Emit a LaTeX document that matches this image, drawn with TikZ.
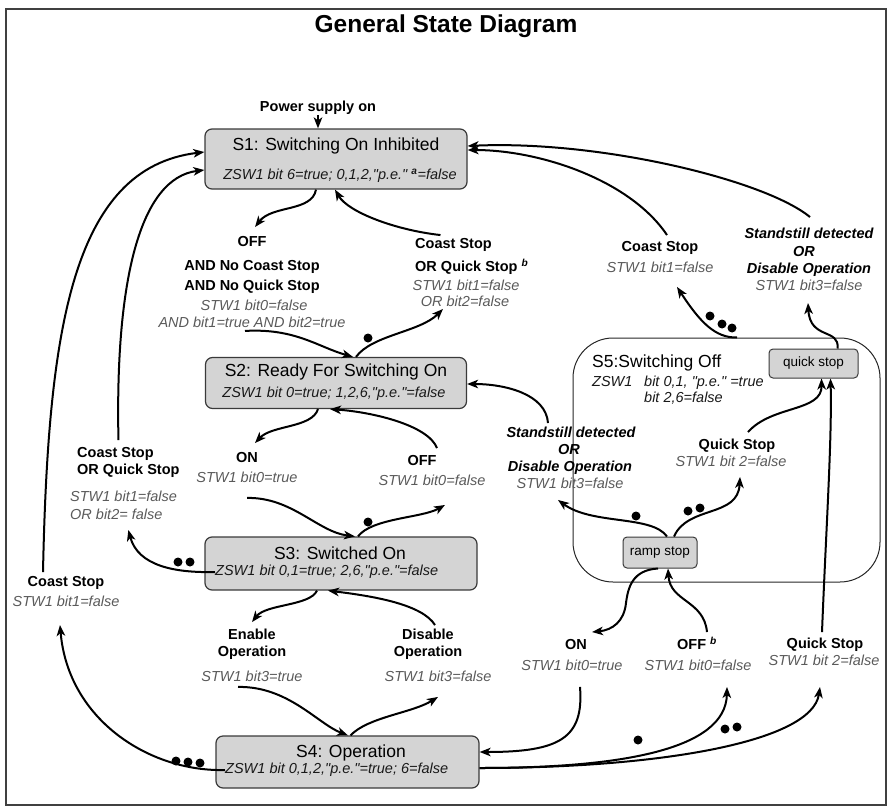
\documentclass[tikz,border=0pt]{standalone}
\usepackage{fontspec}
\setmainfont[Ligatures=TeXOff]{Liberation Sans}
\usetikzlibrary{arrows.meta}
\definecolor{txtgray}{HTML}{5A5A5A}
\definecolor{boxfill}{HTML}{D4D4D4}
\definecolor{boxline}{HTML}{3A3A3A}
\begin{document}
\begin{tikzpicture}[x=1pt,y=-1pt,
 lb/.style={font=\fontsize{14.5}{17}\selectfont\bfseries, inner sep=0pt, text height=10.5pt, text depth=3pt},
 lbi/.style={font=\fontsize{14.5}{17}\selectfont\bfseries\itshape, inner sep=0pt, text height=10.5pt, text depth=3pt},
 lg/.style={font=\fontsize{14.5}{17}\selectfont\itshape, text=txtgray, inner sep=0pt, text height=10.5pt, text depth=3pt},
 stbox/.style={draw=boxline, fill=boxfill, line width=1.2pt, rounded corners=7pt, inner sep=0pt},
 smallbox/.style={draw=boxline, fill=boxfill, line width=1pt, rounded corners=4pt, inner sep=0pt, font=\fontsize{13.5}{15}\selectfont},
 stitle/.style={font=\fontsize{17.5}{20}\selectfont, inner sep=0pt},
 sdet/.style={font=\fontsize{14.5}{17}\selectfont\itshape, text=black!90, inner sep=0pt, text height=10.5pt, text depth=3pt},
 conn/.style={line width=2pt, -{Stealth[length=11pt,width=8.5pt,inset=3pt]}},
 dotc/.style={fill=black}
]
\useasboundingbox (0,0) rectangle (891,808);
\draw[draw=black!75, line width=1.2pt] (6,9) rectangle (886,805);
\node[font=\fontsize{24.5}{28}\selectfont\bfseries, inner sep=0pt] (title) at (446,26) {General State Diagram};

% states
\node[stbox, minimum width=262, minimum height=60] (s1) at (336,159) {};
\node[stitle] (s1a) at (336,146) {S1: Switching On Inhibited};
\node[sdet] (s1b) at (340,176) {ZSW1 bit 6=true; 0,1,2,"p.e." \textsuperscript{\textbf{a}}=false};

\node[stbox, minimum width=261, minimum height=51] (s2) at (336,383) {};
\node[stitle] (s2a) at (336,372) {S2: Ready For Switching On};
\node[sdet] (s2b) at (334,394) {ZSW1 bit 0=true; 1,2,6,"p.e."=false};

\node[stbox, minimum width=272, minimum height=53] (s3) at (341,563.5) {};
\node[stitle] (s3a) at (340,553) {S3: Switched On};
\node[sdet, anchor=west] (s3b) at (215,572) {ZSW1 bit 0,1=true; 2,6,"p.e."=false};

\node[stbox, minimum width=263, minimum height=52] (s4) at (347.5,762) {};
\node[stitle] (s4a) at (351,753) {S4: Operation};
\node[sdet, anchor=west] (s4b) at (225,770) {ZSW1 bit 0,1,2,"p.e."=true; 6=false};

\node[draw=black!85, line width=1pt, rounded corners=40pt, minimum width=307, minimum height=244, inner sep=0pt] (s5) at (726.5,460) {};
\node[stitle, anchor=west] (s5t) at (592,363) {S5:Switching Off};
\node[sdet, anchor=west] (s5b) at (592,383) {ZSW1};
\node[sdet, anchor=west] (s5c) at (644,383) {bit 0,1, "p.e." =true};
\node[sdet, anchor=west] (s5d) at (644,399) {bit 2,6=false};
\node[smallbox, minimum width=89, minimum height=29] (qs) at (813.5,363.5) {quick stop};
\node[smallbox, minimum width=74, minimum height=31] (ramp) at (660,552.5) {ramp stop};

% labels
\node[lb] (pwr) at (318,108) {Power supply on};

\node[lb] (offa) at (252,243) {OFF};
\node[lb] (offb) at (252,267) {AND No Coast Stop};
\node[lb] (offc) at (252,287) {AND No Quick Stop};
\node[lg] (offd) at (254,307) {STW1 bit0=false};
\node[lg] (offe) at (252,324) {AND bit1=true AND bit2=true};

\node[lb, anchor=west] (cs1a) at (415,245) {Coast Stop};
\node[lb, anchor=west] (cs1b) at (415,268) {OR Quick Stop \textsuperscript{\textit{b}}};
\node[lg] (cs1c) at (466,287) {STW1 bit1=false};
\node[lg] (cs1d) at (465,303) {OR bit2=false};

\node[lb] (on1a) at (247,459) {ON};
\node[lg] (on1b) at (247,479) {STW1 bit0=true};
\node[lb] (off1a) at (422,462) {OFF};
\node[lg] (off1b) at (432,482) {STW1 bit0=false};

\node[lb, anchor=west] (lcsa) at (77,454) {Coast Stop};
\node[lb, anchor=west] (lcsb) at (77,471) {OR Quick Stop};
\node[lg, anchor=west] (lcsc) at (70,498) {STW1 bit1=false};
\node[lg, anchor=west] (lcsd) at (70,516) {OR bit2= false};

\node[lb] (lcs2a) at (66,583) {Coast Stop};
\node[lg] (lcs2b) at (66,603) {STW1 bit1=false};

\node[lb] (ena) at (252,636) {Enable};
\node[lb] (enb) at (252,653) {Operation};
\node[lg] (enc) at (252,678) {STW1 bit3=true};
\node[lb] (disa) at (428,636) {Disable};
\node[lb] (disb) at (428,653) {Operation};
\node[lg] (disc) at (438,678) {STW1 bit3=false};

\node[lb] (rona) at (576,646) {ON};
\node[lg] (ronb) at (572,667) {STW1 bit0=true};
\node[lb] (roffa) at (697,646) {OFF \textsuperscript{\textit{b}}};
\node[lg] (roffb) at (698,667) {STW1 bit0=false};
\node[lb] (rqsa) at (825,645) {Quick Stop};
\node[lg] (rqsb) at (824,662) {STW1 bit 2=false};

\node[lb] (iqsa) at (737,446) {Quick Stop};
\node[lg] (iqsb) at (731,463) {STW1 bit 2=false};

\node[lbi] (msa) at (571,434) {Standstill detected};
\node[lbi] (msb) at (569,451) {OR};
\node[lbi] (msc) at (570,468) {Disable Operation};
\node[lg] (msd) at (570,485) {STW1 bit3=false};

\node[lb] (ucsa) at (660,248) {Coast Stop};
\node[lg] (ucsb) at (660,269) {STW1 bit1=false};
\node[lbi] (usa) at (809,235) {Standstill detected};
\node[lbi] (usb) at (804,253) {OR};
\node[lbi] (usc) at (809,270) {Disable Operation};
\node[lg] (usd) at (809,287) {STW1 bit3=false};

% connectors
\draw[conn] (pwr.south) -- (pwr.south |- s1.north);
\draw[conn] ([xshift=-20pt]s1.south) .. controls (312,212) and (272,205) .. ([xshift=3pt,yshift=9pt]offa.north);
\draw[conn] ([xshift=-13pt,yshift=3pt]cs1a.north) .. controls (395,230) and (348,212) .. ([xshift=-1pt]s1.south);
\draw[conn] ([xshift=-7pt]offe.south) .. controls (295,328) and (318,347) .. ([xshift=17pt]s2.north);
\draw[conn] ([xshift=20pt]s2.north) .. controls (372,335) and (420,332) .. ([xshift=-22pt,yshift=1pt]cs1d.south);
\draw[conn] ([xshift=-18pt]s2.south) .. controls (312,428) and (272,425) .. ([xshift=8pt,yshift=9pt]on1a.north);
\draw[conn] ([xshift=15pt,yshift=7pt]off1a.north) .. controls (428,425) and (372,412) .. ([xshift=-6pt]s2.south);
\draw[conn] ([yshift=-12pt]on1b.south) .. controls (292,497) and (318,532) .. ([xshift=14pt]s3.north);
\draw[conn] ([xshift=17pt]s3.north) .. controls (372,518) and (422,518) .. ([xshift=13pt,yshift=-16pt]off1b.south);
\draw[conn] (s3b.west) .. controls (175,573) and (138,566) .. ([xshift=12pt,yshift=-7pt]lcsd.south);
\draw[conn] ([xshift=3pt,yshift=7pt]lcsa.north) .. controls (115,280) and (140,178) .. ([yshift=-11pt]s1.west);
\draw[conn] ([xshift=-23pt,yshift=4pt]lcs2a.north) .. controls (48,330) and (72,168) .. ([yshift=7pt]s1.west);
\draw[conn] (s4b.west) .. controls (150,772) and (68,720) .. ([xshift=-6pt,yshift=-15pt]lcs2b.south);
\draw[conn] ([xshift=-24pt]s3.south) .. controls (310,606) and (266,604) .. ([yshift=7pt]ena.north);
\draw[conn] ([xshift=7pt,yshift=4pt]disa.north) .. controls (422,604) and (372,596) .. ([xshift=-13pt]s3.south);
\draw[conn] ([xshift=-14pt,yshift=-2pt]enc.south) .. controls (288,686) and (318,724) .. ([xshift=0.5pt]s4.north);
\draw[conn] ([xshift=3pt]s4.north) .. controls (368,717) and (412,713) .. ([yshift=-12pt]disc.south);
\draw[conn] ([xshift=8pt,yshift=-13pt]ronb.south) .. controls (584,738) and (560,752) .. ([yshift=10pt]s4.east);
\draw[conn] ([yshift=-6pt]s4.east) .. controls (620,768) and (726,750) .. ([xshift=29pt,yshift=-13pt]roffb.south);
\draw[conn] ([yshift=-6pt]s4.east) .. controls (660,768) and (812,742) .. ([xshift=-4pt,yshift=-18pt]rqsb.south);
\draw[conn] ([xshift=-2pt]ramp.south) .. controls (632,570) and (628,588) .. (626,603) .. controls (624,622) and (612,630) .. ([xshift=16pt,yshift=7pt]rona.north);
\draw[conn] ([xshift=10pt,yshift=7pt]roffa.north) .. controls (704,600) and (670,602) .. ([xshift=8pt]ramp.south);
\draw[conn] ([xshift=-3pt,yshift=6pt]rqsa.north) .. controls (826,530) and (832,440) .. ([xshift=17pt]qs.south);
\draw[conn] ([xshift=7pt]ramp.north) .. controls (652,515) and (592,525) .. ([xshift=-12pt,yshift=-8pt]msd.south);
\draw[conn] ([xshift=14pt]ramp.north) .. controls (688,505) and (738,518) .. ([xshift=9pt,yshift=-7pt]iqsb.south);
\draw[conn] ([xshift=11pt,yshift=7pt]iqsa.north) .. controls (772,405) and (822,412) .. ([xshift=8pt]qs.south);
\draw[conn] ([xshift=-23pt,yshift=4pt]msa.north) .. controls (546,394) and (505,384) .. ([yshift=-1pt]s2.east);
\draw[conn] ([xshift=10.5pt]s5.north) .. controls (715,338) and (700,322) .. ([xshift=17pt,yshift=-11pt]ucsb.south);
\draw[conn] ([xshift=7pt,yshift=6pt]ucsa.north) .. controls (630,180) and (540,150) .. ([yshift=9pt]s1.east);
\draw[conn] ([xshift=24pt]qs.north) .. controls (840,328) and (810,340) .. ([xshift=-1pt,yshift=-9pt]usd.south);
\draw[conn] ([xshift=1pt,yshift=11pt]usa.north) .. controls (765,180) and (600,140) .. ([yshift=13pt]s1.east);

% dots
\fill[dotc] (368,338) circle (4.5pt);
\fill[dotc] (368,522) circle (4.5pt);
\fill[dotc] (178,562) circle (4.5pt);
\fill[dotc] (190,562) circle (4.5pt);
\fill[dotc] (176,761) circle (4.5pt);
\fill[dotc] (188,762) circle (4.5pt);
\fill[dotc] (200,763) circle (4.5pt);
\fill[dotc] (638,740) circle (4.5pt);
\fill[dotc] (725,729) circle (4.5pt);
\fill[dotc] (737,727) circle (4.5pt);
\fill[dotc] (636,516) circle (4.5pt);
\fill[dotc] (688,511) circle (4.5pt);
\fill[dotc] (700,508) circle (4.5pt);
\fill[dotc] (710,316) circle (4.5pt);
\fill[dotc] (722,324) circle (4.5pt);
\fill[dotc] (732,328) circle (4.5pt);
\end{tikzpicture}
\end{document}
